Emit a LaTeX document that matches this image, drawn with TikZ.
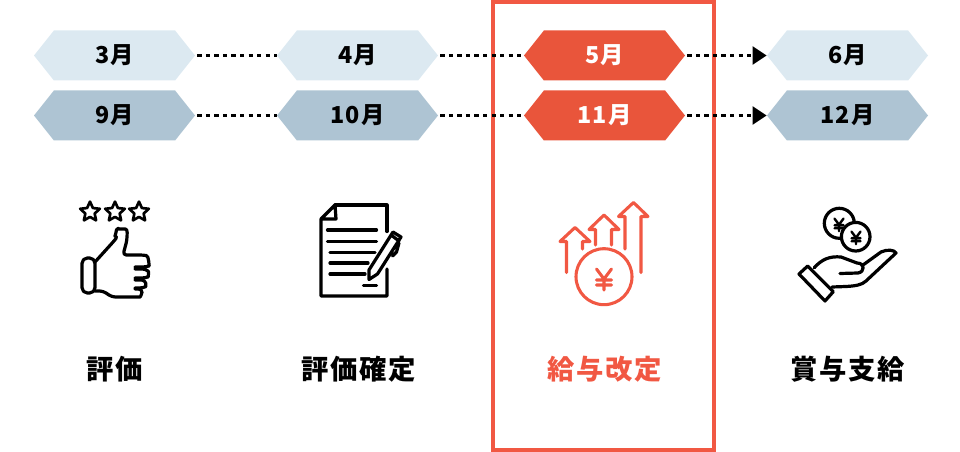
\documentclass[tikz,border=0pt]{standalone}
\usepackage{fontspec}
\setmainfont{Noto Sans CJK JP}
\newfontfamily\cjk[LetterSpace=6]{Noto Sans CJK JP}
\usetikzlibrary{arrows.meta,shapes.symbols,shapes.geometric}
\definecolor{paleblue}{rgb}{0.863,0.914,0.945}
\definecolor{greyblue}{rgb}{0.682,0.769,0.827}
\definecolor{redfill}{rgb}{0.914,0.333,0.231}
\definecolor{redline}{rgb}{0.945,0.345,0.263}
\tikzset{
  month/.style={signal,signal to=west and east,signal pointer angle=103,draw=none,inner sep=0pt,
    minimum width=120.75pt,minimum height=37.5pt,text=black,font=\cjk\bfseries\fontsize{17.5pt}{17.5pt}\selectfont},
  caption/.style={text=black,font=\cjk\bfseries\fontsize{20.5pt}{20.5pt}\selectfont},
  link/.style={line width=1.7pt,dash pattern=on 3.2pt off 3.2pt,line cap=butt,color=black,shorten <=1.5pt},
  icon/.style={line width=2.4pt,color=black},
  redicon/.style={line width=2.3pt,color=redline},
  yen/.pic={\draw (-7.5,-9) -- (0,1) -- (7.5,-9) (0,1) -- (0,12) (-7.5,2) -- (7.5,2) (-7.5,7) -- (7.5,7);}
}
\begin{document}
\begin{tikzpicture}[line cap=round,line join=round,x=0.75pt,y=-0.75pt]
\useasboundingbox (0,0) rectangle (960,452);
\draw [line width=3pt,color=redline,line cap=butt,line join=miter] (492.5,2) rectangle (714,450);
\foreach \x/\n in {114.5/3,357.5/4,847.5/6}
\node[month,fill=paleblue] (m\n) at (\x,55.5) {\n 月};
\foreach \x/\n in {114.5/9,357.5/10,847.5/12}
\node[month,fill=greyblue] (m\n) at (\x,115.5) {\n 月};
\node[month,fill=redfill,text=white] (m5) at (604.5,55.5) {5月};
\node[month,fill=redfill,text=white] (m11) at (604.5,115.5) {11月};
\foreach \a/\b in {m3/m4,m4/m5,m9/m10,m10/m11}
\draw[link] (\a.east) -- (\b.west);
\foreach \a/\b in {m5/m6,m11/m12}
\draw[link,-{Triangle[length=10.5pt,width=13.5pt,sep=0pt]}] (\a.east) -- (\b.west);
\node[caption] (c1) at (115,369) {評価};
\node[caption] (c2) at (359,369) {評価確定};
\node[caption,text=redline] (c3) at (605,369) {給与改定};
\node[caption] (c4) at (848,369) {賞与支給};
\foreach \x in {90,115,139}
\node[star,star points=5,star point ratio=2.1,draw=black,line width=2pt,inner sep=0pt,minimum size=15.5pt] (s\x) at (\x,212) {};
\draw[icon,rounded corners=4pt] (82,258) rectangle (95,293);
\draw[icon,rounded corners=2.5pt] (95,262) -- (114,241) .. controls (118,236) and (115,236) .. (116,233) .. controls (117,227) and (120,229) .. (122,229) .. controls (128,229) and (127,236) .. (127,240) -- (123,255) -- (143,255) .. controls (149,256) and (149,266) .. (146,267) -- (135,267);
\draw[icon,rounded corners=2.5pt] (135,269) -- (146,269) .. controls (149,272) and (148,277) .. (145,278) -- (135,278);
\draw[icon,rounded corners=2.5pt] (135,280) -- (145,280) .. controls (146,284) and (145,287) .. (143,288) -- (135,288);
\draw[icon,rounded corners=2.5pt] (135,289) -- (142,289) .. controls (142,294) and (140,297) .. (137,297) -- (112,297) -- (103,291) -- (95,291);
\draw[icon] (335,205) -- (387,205) -- (387,231.5);
\draw[icon] (387,269) -- (387,296) -- (321,296) -- (321,219) -- (335,205) -- (336,219) -- (321,219);
\draw[icon] (327.5,230) -- (376.5,230) (327.5,241.5) -- (376.5,241.5) (330,252.5) -- (375,252.5) (330,263) -- (368,263) (330,274) -- (365,274) (363.5,285.5) -- (376.5,285.5);
\draw[icon] (369,279.5) -- (369,270) -- (393,232) -- (401,237) -- (377.5,274) -- cycle (391,235) -- (399,241) (399,243) -- (396.5,252) -- (392.5,256);
\draw[redicon] (604,276.7) circle (28);
\draw[redicon] (566.5,272.5) -- (566.5,241.5) -- (560,241.5) -- (575,227.5) -- (590,241.5) -- (582.5,241.5) -- (582.5,249);
\draw[redicon] (595.5,245) -- (595.5,229.5) -- (589,229.5) -- (604,215) -- (619,229.5) -- (611.5,229.5) -- (611.5,245);
\draw[redicon] (625,249) -- (625,216.5) -- (618.5,216.5) -- (633.5,202.5) -- (648,216.5) -- (641,216.5) -- (641,272.5);
\pic[redicon] at (604,278) {yen};
\draw[icon] (839.3,223.3) circle (15);
\draw[icon,fill=white] (855.7,236.7) circle (14.3);
\pic[icon,line width=1.8pt,scale=0.6] at (839,224) {yen};
\pic[icon,line width=1.8pt,scale=0.6] at (856,237) {yen};
\draw[icon] (799,274) -- (807.7,266) -- (833.3,291.7) -- (825,301) -- cycle;
\draw[icon] (814.3,267.7) .. controls (822,259) and (830,256) .. (841,257) -- (857,263) .. controls (865,263) and (865,272) .. (858,273) -- (840,273.5);
\draw[icon] (863,265) -- (881,252) .. controls (887,249) and (895,250) .. (896,253) -- (866,281) .. controls (862,285) and (855,286) .. (846,286.5) -- (832,287);
\end{tikzpicture}
\end{document}
